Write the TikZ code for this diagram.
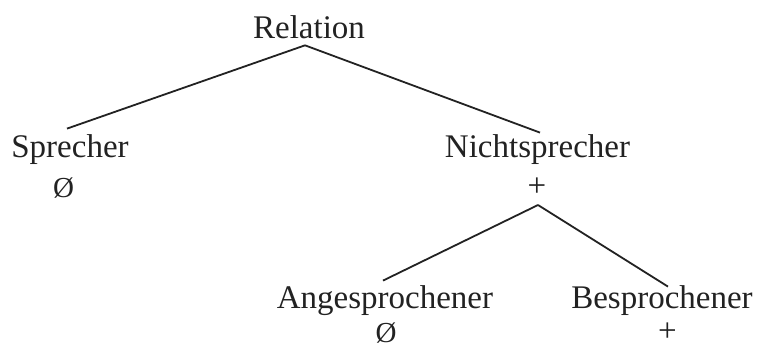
\documentclass[tikz,border=0pt]{standalone}
\usepackage{fontspec}
\setmainfont{Liberation Serif}
\usetikzlibrary{calc}
\definecolor{ink}{HTML}{222222}
\begin{document}
\begin{tikzpicture}[x=1pt,y=-1pt,
  lbl/.style={anchor=base,inner sep=0pt,outer sep=0pt,text=ink,font=\fontsize{33}{36}\selectfont},
  valsym/.style={anchor=base,inner sep=0pt,outer sep=0pt,text=ink,font=\fontsize{29}{32}\selectfont},
  edge/.style={draw=ink,line width=1.8pt}]
\useasboundingbox (0,0) rectangle (760,349);
\node[lbl] (rel) at (309,38) {Relation};
\node[lbl] (spr) at (70,157) {Sprecher};
\node[valsym] (sprv) at (63.5,197) {Ø};
\node[lbl] (nsp) at (537.5,157) {Nichtsprecher};
\node[lbl] (nspv) at (537,196) {+};
\node[lbl] (ang) at (385,308) {Angesprochener};
\node[valsym] (angv) at (386,342) {Ø};
\node[lbl] (bes) at (662,308) {Besprochener};
\node[lbl] (besv) at (667.5,341) {+};
\draw[edge] ($(rel.south)+(-4,7)$) -- ($(spr.north)+(-3,-5.5)$);
\draw[edge] ($(rel.south)+(-4,7)$) -- ($(nsp.north)+(2.5,-1.5)$);
\draw[edge] ($(nspv.south)+(1,9)$) -- ($(ang.north)+(-2,-4.5)$);
\draw[edge] ($(nspv.south)+(1,9)$) -- ($(bes.north)+(6,1.5)$);
\end{tikzpicture}
\end{document}
